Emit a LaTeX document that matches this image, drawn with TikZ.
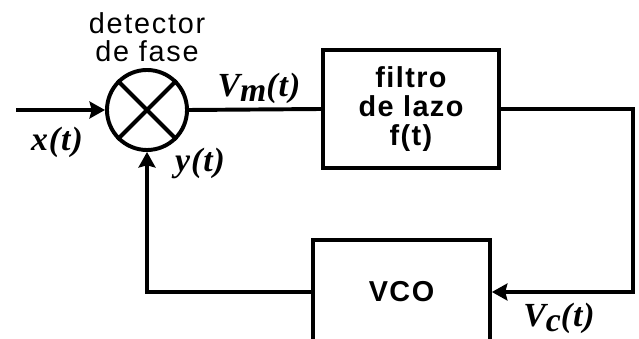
\documentclass[tikz,border=0pt]{standalone}
\usepackage{fontspec}
\setmainfont{Liberation Sans}
\newfontfamily\lblfont{Liberation Serif}[BoldItalicFont=*, UprightFont=* Bold Italic, LetterSpace=3]
\newfontfamily\boxfont{Liberation Sans Bold}[LetterSpace=5]
\newfontfamily\detfont{Liberation Sans}[LetterSpace=6]
\usetikzlibrary{positioning, arrows.meta, calc}

\tikzset{
  blk/.style={draw, line width=2.8pt, rectangle, align=center, font=\boxfont\fontsize{20.5}{20.5}\selectfont},
  lbl/.style={font=\lblfont\fontsize{24}{26}\selectfont},
}

\begin{document}
\begin{tikzpicture}[x=0.025cm, y=-0.025cm, >={Stealth[length=11pt, width=12pt, inset=1.5pt]}, line width=2.8pt]
        \clip (0,0) rectangle (639,339);

        % Blocks
        \node[draw, circle, minimum size=2cm, inner sep=0pt] (det) at (147,110) {};
        \node[align=center, font=\detfont\fontsize{20.5}{20}\selectfont] (dettxt) at (147,37) {detector\\de fase};
        \node[blk, minimum width=4.4cm, minimum height=2.95cm] (filt) at (411,109) {filtro\\de lazo\\f(t)};
        \node[blk, minimum width=4.42cm, minimum height=2.6cm] (vco) at (401.5,292) {VCO};

        % Points
        \coordinate (in) at (16,110);
        \coordinate (fr) at (633,109);

        % Cross
        \draw (det.45) -- (det.225);
        \draw (det.135) -- (det.315);

        % Connections
        \draw[->] (in) -- (det.west);
        \draw (det.east) -- (filt.west);
        \draw[->] (filt.east) -- (fr) |- (vco.east);
        \draw[->] (vco.west) -| (det.south);

        % Labels
        \node[lbl] (xt) at (57,142) {x(t)};
        \node[lbl] (yt) at (200,163) {y(t)};
        \node[lbl] (vm) at (259,88) {V\raisebox{-.35ex}{m}(t)};
        \node[lbl] (vc) at (559,318) {V\raisebox{-.35ex}{c}(t)};
\end{tikzpicture}
\end{document}
